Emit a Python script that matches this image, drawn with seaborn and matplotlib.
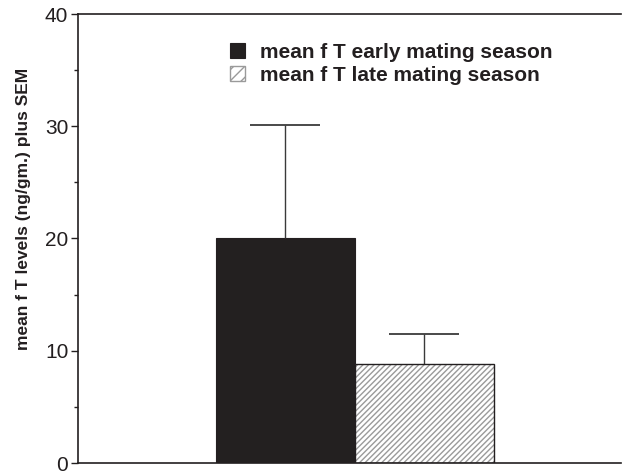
import matplotlib
matplotlib.use("Agg")
import matplotlib.pyplot as plt
from matplotlib.patches import Rectangle
import seaborn as sns
import pandas as pd

# Fecal testosterone means and SEM for the two parts of the mating season
seasons = ["mean f T early mating season", "mean f T late mating season"]
mean_ft = [20.0, 8.8]
sem_ft = [10.1, 2.7]
y_ticks = [0, 10, 20, 30, 40]

df = pd.DataFrame({"group": ["all", "all"], "season": seasons, "fT": mean_ft})

INK = "#231f20"
HATCH_GREY = "#9a9a9a"
HATCH = "//////"

sns.set_theme(style="ticks")
plt.rcParams["font.family"] = ["Liberation Sans", "DejaVu Sans"]
plt.rcParams["hatch.linewidth"] = 1.0

fig = plt.figure(figsize=(6.22, 4.73), dpi=100)
ax = fig.add_axes([78 / 622, 10 / 473, 543 / 622, 449 / 473])

sns.barplot(data=df, x="group", y="fT", hue="season", hue_order=seasons,
            palette=[INK, "white"], errorbar=None, width=0.8,
            edgecolor=INK, linewidth=0.8, ax=ax)

bars = [p for p in ax.patches if p.get_height() > 0]
bars.sort(key=lambda p: p.get_x())

# grey hatching on the late-season bar, with a dark outline drawn on top
bars[1].set_hatch(HATCH)
bars[1].set_edgecolor(HATCH_GREY)
bars[1].set_linewidth(0)
ax.add_patch(Rectangle((bars[1].get_x(), 0), bars[1].get_width(),
                       bars[1].get_height(), fill=False, edgecolor=INK,
                       linewidth=1.0, zorder=3))

# upper-only SEM whiskers
for bar, m, s in zip(bars, mean_ft, sem_ft):
    xc = bar.get_x() + bar.get_width() / 2
    eb = ax.errorbar([xc], [m], yerr=[[0], [s]], fmt="none", ecolor="#3a3a3a",
                     elinewidth=1.0, capsize=25, capthick=1.3, zorder=1)
    caps = eb[1]
    if len(caps) == 2:
        caps[0].set_visible(False)

ax.set_xlim(-0.796, 0.767)
ax.set_ylim(0, 40)
ax.set_yticks(y_ticks)
ax.set_yticks([5, 15, 25, 35], minor=True)
ax.tick_params(axis="y", which="major", labelsize=15, length=5, width=1,
               color=INK, labelcolor=INK, pad=2)
ax.tick_params(axis="y", which="minor", length=3, width=1, color=INK)
ax.set_xticks([])
ax.set_xlabel("")
ax.set_ylabel("mean f T levels (ng/gm.) plus SEM", fontsize=12.5,
              fontweight="bold", color=INK)
ax.yaxis.set_label_coords(-0.086, 0.566)

for side in ["left", "bottom", "top"]:
    ax.spines[side].set_visible(True)
    ax.spines[side].set_color(INK)
    ax.spines[side].set_linewidth(1.2)
ax.spines["right"].set_visible(False)

leg = ax.legend(loc="upper left", bbox_to_anchor=(0.265, 0.955), frameon=False,
                handlelength=0.7, handleheight=0.7, handletextpad=0.75,
                labelspacing=0.2, borderaxespad=0,
                prop={"family": "Liberation Sans", "weight": "bold", "size": 15})
for t in leg.get_texts():
    t.set_color(INK)
handles = leg.legend_handles
handles[0].set_linewidth(0.8)
handles[1].set_hatch("///")
handles[1].set_edgecolor(HATCH_GREY)
handles[1].set_facecolor("white")
handles[1].set_linewidth(1.0)

fig.savefig("out.png", dpi=100)
